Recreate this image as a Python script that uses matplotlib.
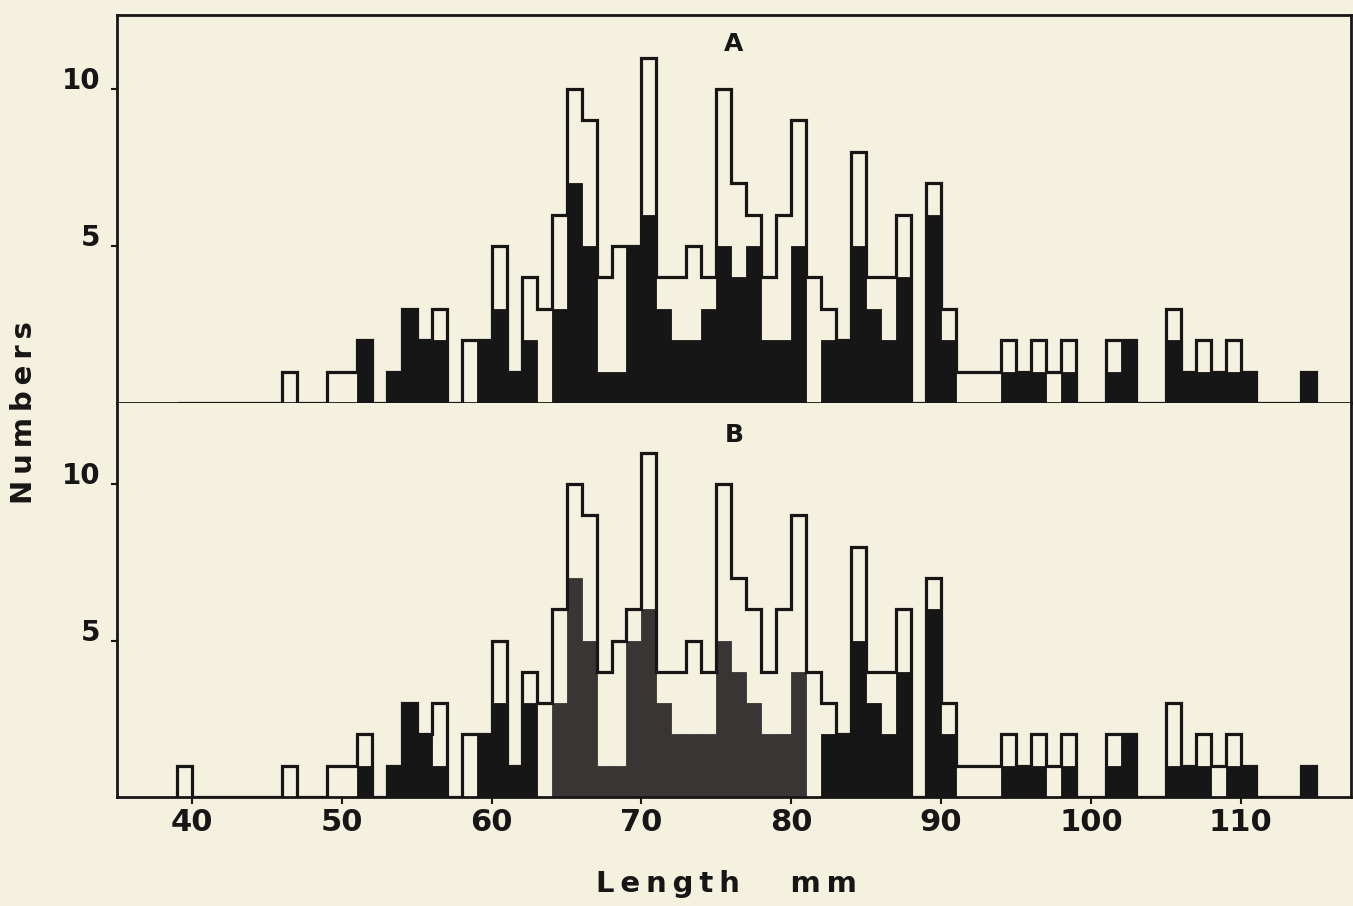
import matplotlib.pyplot as plt
import numpy as np

# lower edge (mm) of each 1 mm length class
bins = np.arange(39, 115)

# panel A: total per class (open outline) and filled (black) part
total_a = [0, 0, 0, 0, 0, 0, 0, 1, 0, 0,
           1, 1, 2, 0, 1, 3, 2, 3, 0, 2,
           2, 5, 1, 4, 3, 6, 10, 9, 4, 5,
           5, 11, 4, 4, 5, 4, 10, 7, 6, 4,
           6, 9, 4, 3, 2, 8, 4, 4, 6, 0,
           7, 3, 1, 1, 1, 2, 1, 2, 1, 2,
           0, 0, 2, 2, 0, 0, 3, 1, 2, 1,
           2, 1, 0, 0, 0, 1]
fill_a = [0, 0, 0, 0, 0, 0, 0, 0, 0, 0,
          0, 0, 2, 0, 1, 3, 2, 2, 0, 0,
          2, 3, 1, 2, 0, 3, 7, 5, 1, 1,
          5, 6, 3, 2, 2, 3, 5, 4, 5, 2,
          2, 5, 0, 2, 2, 5, 3, 2, 4, 0,
          6, 2, 0, 0, 0, 1, 1, 1, 0, 1,
          0, 0, 1, 2, 0, 0, 2, 1, 1, 1,
          1, 1, 0, 0, 0, 1]

# panel B
total_b = [1, 0, 0, 0, 0, 0, 0, 1, 0, 0,
           1, 1, 2, 0, 1, 3, 2, 3, 0, 2,
           2, 5, 1, 4, 3, 6, 10, 9, 4, 5,
           6, 11, 4, 4, 5, 4, 10, 7, 6, 4,
           6, 9, 4, 3, 2, 8, 4, 4, 6, 0,
           7, 3, 1, 1, 1, 2, 1, 2, 1, 2,
           0, 0, 2, 2, 0, 0, 3, 1, 2, 1,
           2, 1, 0, 0, 0, 1]
fill_b = [0, 0, 0, 0, 0, 0, 0, 0, 0, 0,
          0, 0, 1, 0, 1, 3, 2, 1, 0, 0,
          2, 3, 1, 3, 0, 3, 7, 5, 1, 1,
          5, 6, 3, 2, 2, 2, 5, 4, 3, 2,
          2, 4, 0, 2, 2, 5, 3, 2, 4, 0,
          6, 2, 0, 0, 0, 1, 1, 1, 0, 1,
          0, 0, 1, 2, 0, 0, 1, 1, 1, 0,
          1, 1, 0, 0, 0, 1]

paper = '#f4f1df'
ink = '#161616'
grey = '#383634'

edges = np.append(bins, bins[-1] + 1)

fig = plt.figure(figsize=(13.53, 9.06), dpi=100, facecolor=paper)
ax_a = fig.add_axes([0.0865, 0.5552, 0.9120, 0.4283])
ax_b = fig.add_axes([0.0865, 0.1203, 0.9120, 0.4349])


def draw(ax, total, fill, colors, top):
    ax.set_facecolor(paper)
    ax.bar(bins, fill, width=1, align='edge', color=colors,
           edgecolor=colors, linewidth=0.6)
    ax.stairs(total, edges, color=ink, linewidth=2.3)
    ax.set_xlim(35.0, 117.35)
    ax.set_ylim(0, top)
    ax.set_yticks([5, 10], labels=['5', '10'])
    ax.tick_params(axis='y', length=4, width=1.5, pad=8, color=ink,
                   labelsize=20, labelcolor=ink)
    for lab in ax.get_yticklabels():
        lab.set_fontweight('bold')
        lab.set_verticalalignment('baseline')
    for sp in ax.spines.values():
        sp.set_color(ink)
        sp.set_linewidth(2.0)


draw(ax_a, total_a, fill_a, ink, 12.36)
ax_a.set_xticks([])

colors_b = [grey if 64 <= b <= 80 else ink for b in bins]
draw(ax_b, total_b, fill_b, colors_b, 12.59)
ax_b.set_xticks(range(40, 111, 10))
ax_b.tick_params(axis='x', length=5, width=1.5, pad=3, color=ink,
                 labelsize=22, labelcolor=ink)
for lab in ax_b.get_xticklabels():
    lab.set_fontweight('bold')
ax_b.spines['top'].set_visible(False)

ax_a.text(0.5, 0.925, 'A', transform=ax_a.transAxes, ha='center',
          va='center', fontsize=18, fontweight='bold', color=ink)
ax_b.text(0.5, 0.919, 'B', transform=ax_b.transAxes, ha='center',
          va='center', fontsize=18, fontweight='bold', color=ink)

fig.text(0.537, 0.024, 'L\u2009e\u2009n\u2009g\u2009t\u2009h     m\u2009m',
         ha='center', va='center', fontsize=21, fontweight='bold', color=ink)
fig.text(0.018, 0.545, 'N\u2009u\u2009m\u2009b\u2009e\u2009r\u2009s',
         rotation=90, ha='center', va='center', fontsize=21,
         fontweight='bold', color=ink)

fig.savefig('out.png', dpi=100, facecolor=paper)
